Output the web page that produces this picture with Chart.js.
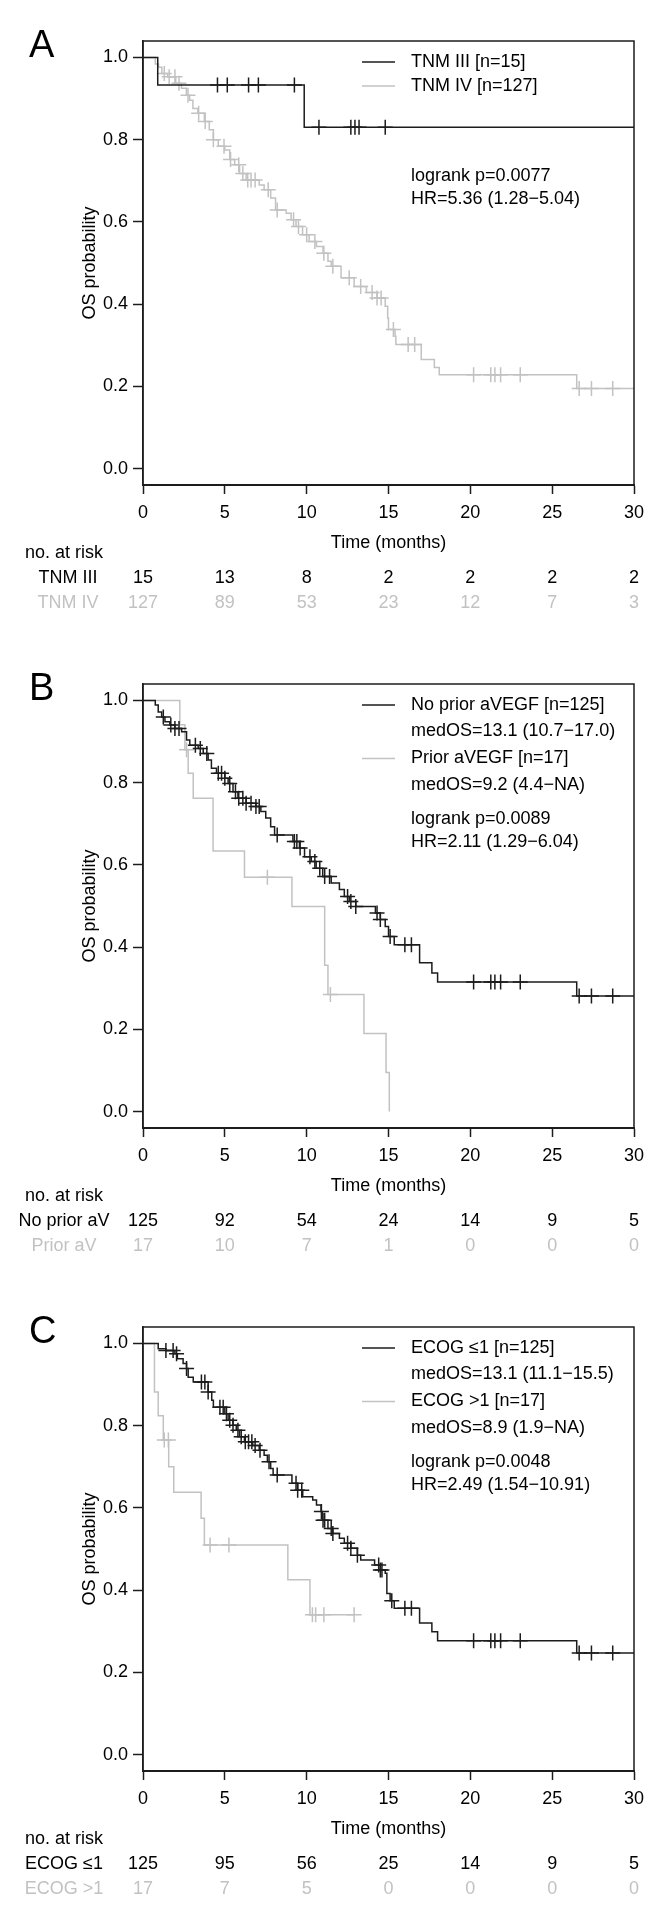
<!DOCTYPE html>
<html>
<head>
<meta charset="utf-8">
<script src="https://cdn.jsdelivr.net/npm/chart.js@4.4.1/dist/chart.umd.min.js"></script>
<style>
  body { margin: 0; background: #fff; }
  .panel { position: absolute; left: 0; width: 666px; height: 638px; }
</style>
</head>
<body>
<div class="panel" style="top:0px"><canvas id="panelA" width="666" height="638"></canvas></div>
<div class="panel" style="top:643px"><canvas id="panelB" width="666" height="638"></canvas></div>
<div class="panel" style="top:1286px"><canvas id="panelC" width="666" height="638"></canvas></div>
<script>
// ticks
const timeTicks = [0, 5, 10, 15, 20, 25, 30];
const survTicks = [0, 0.2, 0.4, 0.6, 0.8, 1.0];

// A: TNM stage
const tnm3Steps = [[0, 1], [0.9, 0.933], [9.85, 0.830], [30, 0.830]];
const tnm3Cens = [4.55, 5.15, 6.45, 7.05, 9.25, 10.75, 12.7, 12.95, 13.2, 14.8];
const tnm4Steps = [[0, 1], [0.75, 0.984], [0.95, 0.976], [1.15, 0.961], [1.5, 0.953], [2.0, 0.937], [2.35, 0.925],
  [2.65, 0.908], [2.85, 0.896], [3.05, 0.876], [3.35, 0.864], [3.75, 0.844], [4.05, 0.824], [4.3, 0.800],
  [4.6, 0.784], [5.0, 0.775], [5.3, 0.752], [5.6, 0.739], [5.9, 0.718], [6.3, 0.702], [7.1, 0.690],
  [7.4, 0.678], [7.8, 0.658], [8.1, 0.629], [8.75, 0.621], [9.05, 0.605], [9.35, 0.589], [9.75, 0.569],
  [10.15, 0.552], [10.6, 0.540], [11.0, 0.524], [11.3, 0.504], [11.5, 0.492], [12.1, 0.464], [12.9, 0.443],
  [13.65, 0.428], [14.3, 0.415], [14.8, 0.395], [14.95, 0.366], [15.0, 0.338], [15.4, 0.322], [15.45, 0.302],
  [17.0, 0.265], [17.8, 0.246], [18.1, 0.228], [26.5, 0.195], [30, 0.195]];
const tnm4Cens = [1.3, 1.6, 1.95, 2.2, 2.75, 3.4, 3.8, 4.3, 4.95, 5.35, 5.85, 6.1, 6.4, 6.6, 6.85, 7.65, 8.2,
  9.2, 9.5, 10.0, 10.5, 11.05, 11.6, 12.6, 13.3, 14.0, 14.3, 14.55, 15.3, 16.2, 16.6,
  20.2, 21.25, 21.5, 21.85, 23.05, 26.65, 27.4, 28.7];
const tnm3Risk = [15, 13, 8, 2, 2, 2, 2];
const tnm4Risk = [127, 89, 53, 23, 12, 7, 3];

// B: prior anti-VEGF
const noPriorSteps = [[0, 1], [0.75, 0.989], [0.93, 0.972], [1.14, 0.960], [1.34, 0.948], [1.64, 0.940],
  [1.95, 0.932], [2.36, 0.924], [2.66, 0.904], [2.86, 0.891], [3.37, 0.883], [3.68, 0.871], [3.98, 0.855],
  [4.18, 0.835], [4.49, 0.823], [5.0, 0.811], [5.2, 0.798], [5.5, 0.778], [5.8, 0.762], [6.3, 0.750],
  [6.9, 0.742], [7.2, 0.730], [7.5, 0.714], [7.8, 0.693], [8.04, 0.673], [9.16, 0.657], [9.56, 0.641],
  [9.87, 0.620], [10.28, 0.608], [10.58, 0.592], [10.98, 0.572], [11.5, 0.556], [12.0, 0.540], [12.3, 0.523],
  [12.6, 0.511], [13.0, 0.499], [14.2, 0.483], [14.5, 0.467], [14.8, 0.450], [15.0, 0.426], [15.35, 0.406],
  [16.9, 0.362], [17.65, 0.337], [18.0, 0.315], [26.5, 0.281], [30, 0.281]];
const noPriorCens = [1.24, 1.7, 1.95, 2.2, 3.2, 3.5, 3.9, 4.6, 4.8, 5.0, 5.3, 5.65, 5.85, 6.1, 6.3, 6.6, 6.9,
  7.1, 8.2, 9.25, 9.4, 9.6, 10.2, 10.5, 10.8, 11.1, 11.4, 12.5, 12.7, 13.0, 14.3, 14.5, 15.1, 16.0, 16.4,
  20.2, 21.25, 21.5, 21.85, 23.05, 26.65, 27.4, 28.7];
const priorSteps = [[0, 1], [2.25, 0.941], [2.56, 0.880], [2.76, 0.823], [3.07, 0.762], [4.28, 0.634],
  [6.2, 0.570], [9.1, 0.499], [11.1, 0.356], [11.3, 0.285], [13.5, 0.190], [14.85, 0.095], [15.05, 0]];
const priorCens = [2.66, 7.6, 11.45];
const noPriorRisk = [125, 92, 54, 24, 14, 9, 5];
const priorRisk = [17, 10, 7, 1, 0, 0, 0];

// C: ECOG
const ecogLowSteps = [[0, 1], [0.93, 0.987], [1.4, 0.983], [1.95, 0.975], [2.1, 0.963], [2.45, 0.951],
  [2.66, 0.939], [2.76, 0.918], [3.07, 0.906], [3.98, 0.882], [4.2, 0.862], [4.3, 0.845], [5.0, 0.829],
  [5.2, 0.813], [5.5, 0.801], [5.7, 0.789], [5.9, 0.773], [6.2, 0.761], [6.7, 0.752], [7.1, 0.740],
  [7.4, 0.728], [7.6, 0.712], [7.8, 0.696], [7.95, 0.680], [9.1, 0.660], [9.45, 0.643], [9.76, 0.627],
  [10.37, 0.619], [10.6, 0.607], [10.88, 0.591], [10.95, 0.570], [11.3, 0.550], [11.6, 0.538], [12.0, 0.526],
  [12.3, 0.514], [12.7, 0.502], [13.1, 0.485], [13.3, 0.473], [14.15, 0.461], [14.5, 0.449], [14.8, 0.441],
  [14.9, 0.392], [15.1, 0.374], [15.35, 0.356], [16.9, 0.320], [17.65, 0.299], [18.0, 0.277], [26.5, 0.247],
  [30, 0.247]];
const ecogLowCens = [1.4, 1.84, 2.05, 2.66, 3.57, 3.78, 3.98, 4.7, 4.9, 5.1, 5.3, 5.5, 5.8, 6.0, 6.25, 6.45,
  6.65, 6.85, 7.15, 7.7, 8.2, 9.35, 9.45, 9.7, 10.9, 11.0, 11.1, 11.5, 11.6, 12.5, 12.7, 13.1, 14.4, 14.5,
  14.6, 15.2, 16.0, 16.4, 20.2, 21.25, 21.5, 21.85, 23.05, 26.65, 27.4, 28.7];
const ecogHighSteps = [[0, 1], [0.7, 0.882], [0.93, 0.824], [1.24, 0.765], [1.57, 0.700], [1.88, 0.638],
  [3.55, 0.575], [3.75, 0.510], [8.85, 0.425], [10.2, 0.340], [12.9, 0.340]];
const ecogHighCens = [1.3, 1.55, 4.1, 5.25, 10.35, 10.55, 11.05, 12.9];
const ecogLowRisk = [125, 95, 56, 25, 14, 9, 5];
const ecogHighRisk = [17, 7, 5, 0, 0, 0, 0];

const FONT = '"Liberation Sans", Arial, Helvetica, sans-serif';
const DARK = '#1c1c1c';
const GREY = '#c2c2c2';

// survival value at time t from a step list
function survAt(steps, t) {
    let s = steps[0][1];
    for (const [tt, ss] of steps) { if (tt <= t) s = ss; }
    return s;
}

function curveSets(steps, cens, color) {
    return [{
        data: steps.map(p => ({x: p[0], y: p[1]})),
        borderColor: color, borderWidth: 1.5, stepped: true,
        pointRadius: 0, fill: false
    }, {
        data: cens.map(t => ({x: t, y: survAt(steps, t)})),
        showLine: false, pointStyle: 'cross', pointRadius: 7.5,
        pointBorderColor: color, pointBorderWidth: 1.5, pointBackgroundColor: color
    }];
}

function drawPanel(id, cfg) {
    const overlay = {
        id: 'kmOverlay',
        afterDraw(chart) {
            const ctx = chart.ctx;
            const a = chart.chartArea;
            const xs = chart.scales.x;
            ctx.save();
            // box top + right
            ctx.strokeStyle = DARK;
            ctx.lineWidth = 1.5;
            ctx.beginPath();
            ctx.moveTo(a.left, a.bottom);
            ctx.lineTo(a.left, a.top);
            ctx.lineTo(a.right, a.top);
            ctx.lineTo(a.right, a.bottom);
            ctx.stroke();
            // panel letter
            ctx.fillStyle = '#000';
            ctx.textAlign = 'left';
            ctx.textBaseline = 'alphabetic';
            ctx.font = '38px ' + FONT;
            ctx.fillText(cfg.letter, 29, 57);
            // legend
            ctx.font = '18px ' + FONT;
            ctx.textBaseline = 'middle';
            cfg.legend.forEach((row, i) => {
                const y = cfg.legendY[i];
                if (row.color) {
                    ctx.strokeStyle = row.color;
                    ctx.lineWidth = 1.5;
                    ctx.beginPath();
                    ctx.moveTo(362, y);
                    ctx.lineTo(395, y);
                    ctx.stroke();
                }
                ctx.fillStyle = '#000';
                ctx.fillText(row.text, 411, y);
            });
            ctx.fillText(cfg.stats[0], 411, 176);
            ctx.fillText(cfg.stats[1], 411, 199.5);
            // risk table
            ctx.textAlign = 'center';
            ctx.fillStyle = '#000';
            ctx.fillText('no. at risk', 64, 553.5);
            cfg.risk.forEach((row, r) => {
                const y = 578 + r * 25;
                ctx.fillStyle = row.color;
                ctx.fillText(row.label, cfg.riskLabelX, y);
                row.values.forEach((v, i) => {
                    ctx.fillText(String(v), xs.getPixelForValue(timeTicks[i]), y);
                });
            });
            ctx.restore();
        }
    };

    new Chart(document.getElementById(id), {
        type: 'line',
        data: { datasets: cfg.datasets },
        options: {
            responsive: false,
            animation: false,
            events: [],
            layout: { padding: { top: 41, right: 32, bottom: 78, left: 0 } },
            plugins: { legend: { display: false }, tooltip: { enabled: false }, title: { display: false } },
            scales: {
                x: {
                    type: 'linear', min: 0, max: 30,
                    afterBuildTicks: s => { s.ticks = timeTicks.map(v => ({value: v})); },
                    afterFit: s => { s.height = 75; },
                    grid: { drawOnChartArea: false, drawTicks: true, tickLength: 9, tickWidth: 1.5, tickColor: DARK },
                    border: { display: true, color: DARK, width: 2 },
                    ticks: { font: { size: 18, family: FONT }, color: '#000', padding: 8, maxRotation: 0, autoSkip: false },
                    title: { display: true, text: 'Time (months)', color: '#000', font: { size: 18, family: FONT },
                        padding: { top: 0, bottom: 6 } }
                },
                y: {
                    type: 'linear', min: -0.04, max: 1.04,
                    afterBuildTicks: s => { s.ticks = survTicks.map(v => ({value: v})); },
                    afterFit: s => { s.width = 143; },
                    grid: { drawOnChartArea: false, drawTicks: true, tickLength: 10, tickWidth: 1.5, tickColor: DARK },
                    border: { display: true, color: DARK, width: 1.5 },
                    ticks: { font: { size: 18, family: FONT }, color: '#000', padding: 5,
                        callback: v => Number(v).toFixed(1) },
                    title: { display: true, text: 'OS probability', color: '#000', font: { size: 18, family: FONT },
                        padding: { top: 79, bottom: 0 } }
                }
            }
        },
        plugins: [overlay]
    });
}

drawPanel('panelA', {
    letter: 'A',
    datasets: [...curveSets(tnm3Steps, tnm3Cens, DARK), ...curveSets(tnm4Steps, tnm4Cens, GREY)],
    legend: [{text: 'TNM III [n=15]', color: DARK}, {text: 'TNM IV [n=127]', color: GREY}],
    legendY: [62, 86],
    stats: ['logrank p=0.0077', 'HR=5.36 (1.28\u22125.04)'],
    riskLabelX: 68,
    risk: [{label: 'TNM III', values: tnm3Risk, color: '#000'}, {label: 'TNM IV', values: tnm4Risk, color: GREY}]
});

drawPanel('panelB', {
    letter: 'B',
    datasets: [...curveSets(noPriorSteps, noPriorCens, DARK), ...curveSets(priorSteps, priorCens, GREY)],
    legend: [{text: 'No prior aVEGF [n=125]', color: DARK}, {text: 'medOS=13.1 (10.7\u221217.0)'},
        {text: 'Prior aVEGF [n=17]', color: GREY}, {text: 'medOS=9.2 (4.4\u2212NA)'}],
    legendY: [62, 88.5, 115.5, 142],
    stats: ['logrank p=0.0089', 'HR=2.11 (1.29\u22126.04)'],
    riskLabelX: 64,
    risk: [{label: 'No prior aV', values: noPriorRisk, color: '#000'}, {label: 'Prior aV', values: priorRisk, color: GREY}]
});

drawPanel('panelC', {
    letter: 'C',
    datasets: [...curveSets(ecogLowSteps, ecogLowCens, DARK), ...curveSets(ecogHighSteps, ecogHighCens, GREY)],
    legend: [{text: 'ECOG \u22641 [n=125]', color: DARK}, {text: 'medOS=13.1 (11.1\u221215.5)'},
        {text: 'ECOG >1 [n=17]', color: GREY}, {text: 'medOS=8.9 (1.9\u2212NA)'}],
    legendY: [62, 88.5, 115.5, 142],
    stats: ['logrank p=0.0048', 'HR=2.49 (1.54\u221210.91)'],
    riskLabelX: 64,
    risk: [{label: 'ECOG \u22641', values: ecogLowRisk, color: '#000'}, {label: 'ECOG >1', values: ecogHighRisk, color: GREY}]
});
</script>
</body>
</html>
